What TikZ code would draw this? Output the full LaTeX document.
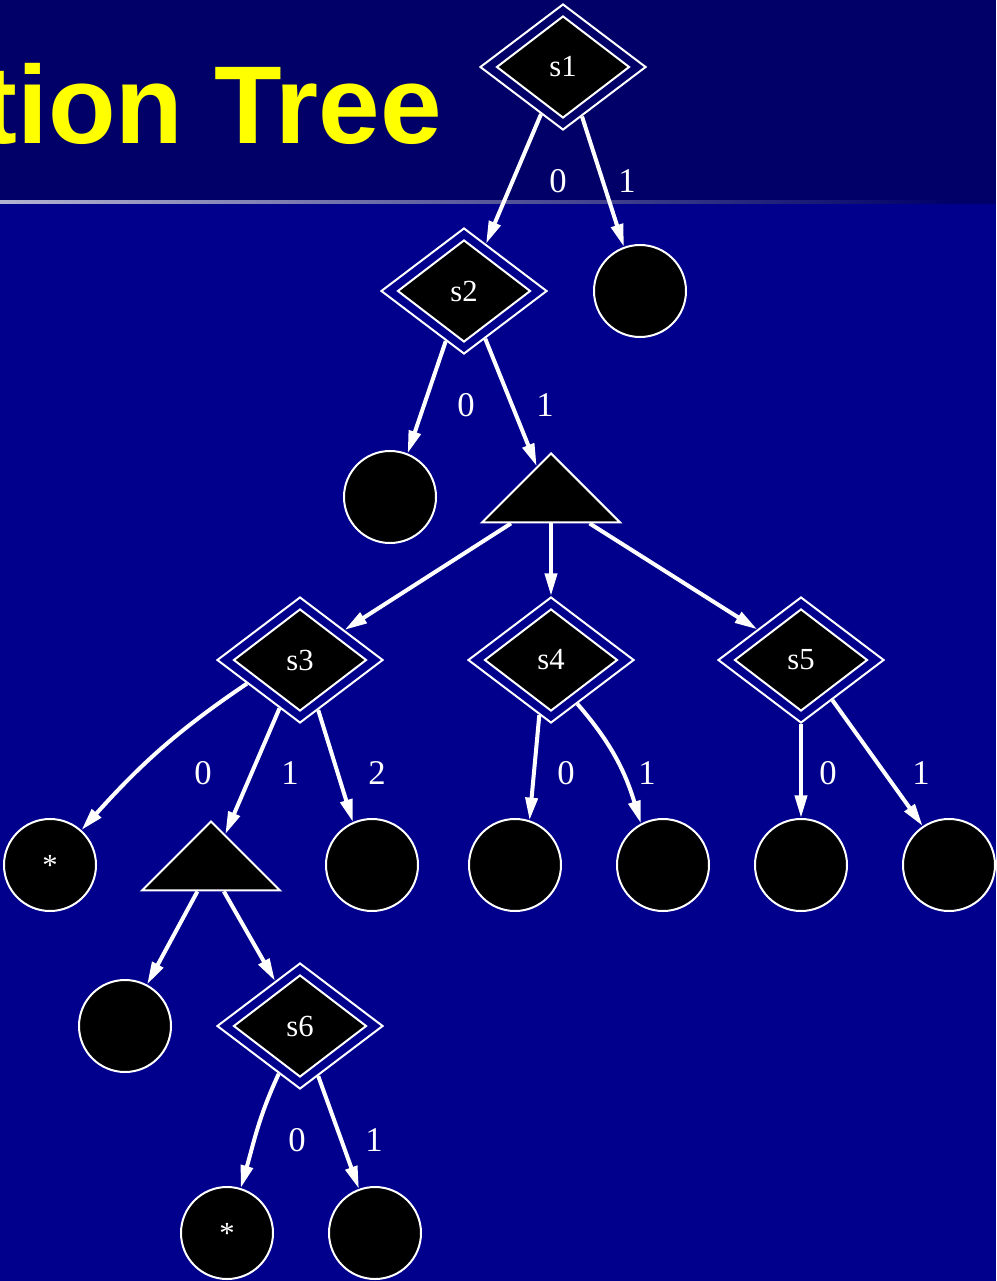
\documentclass[tikz,border=0pt]{standalone}
\usepackage{fontspec}
\setmainfont{Liberation Serif}
\newfontfamily\titlefont{Liberation Sans}
\usetikzlibrary{shapes.geometric,arrows.meta,calc}
\definecolor{hdr}{RGB}{0,0,104}
\definecolor{bodybg}{RGB}{0,0,140}
\definecolor{ttl}{RGB}{255,255,0}
\begin{document}
\begin{tikzpicture}[x=0.75pt,y=0.75pt,
  dcore/.style={diamond, draw=white, fill=black, line width=1.5pt, minimum width=99.75pt, minimum height=76.5pt, inner sep=0pt, text=white, font=\fontsize{23}{23}\selectfont},
  dframe/.style={diamond, draw=white, line width=1.5pt, minimum width=124.5pt, minimum height=94.5pt, inner sep=0pt},
  leaf/.style={circle, draw=white, fill=black, line width=1.5pt, minimum size=69pt, inner sep=0pt, text=white, font=\fontsize{23}{23}\selectfont},
  tri/.style={isosceles triangle, isosceles triangle apex angle=90, shape border rotate=90, draw=white, fill=black, line width=1.5pt, minimum width=51.75pt, minimum height=51.75pt, inner sep=0pt, anchor=apex},
  conn/.style={draw=white, line width=3pt, -{Triangle[length=17pt,width=9pt]}},
  lbl/.style={text=white, font=\fontsize{26}{26}\selectfont, inner sep=0pt},
]
\useasboundingbox (0,0) rectangle (996,-1281);
\clip (0,0) rectangle (996,-1281);
\fill[bodybg] (0,0) rectangle (996,-1281);
\fill[hdr] (0,0) rectangle (996,-204);
\shade[left color=white!70!hdr, right color=hdr] (0,-200) rectangle (950,-203);
\node[anchor=base east, text=ttl, font=\titlefont\bfseries\fontsize{83}{83}\selectfont, inner sep=0pt] (title) at (442,-143) {tion Tree};

% decision nodes
\node[dframe] (s1o) at (563,-67) {};
\node[dcore] (s1) at (563,-67) {s1};
\node[dframe] (s2o) at (464,-291) {};
\node[dcore] (s2) at (464,-291) {s2};
\node[dframe] (s3o) at (300,-660) {};
\node[dcore] (s3) at (300,-660) {s3};
\node[dframe] (s4o) at (551,-660) {};
\node[dcore] (s4) at (551,-660) {s4};
\node[dframe] (s5o) at (801,-660) {};
\node[dcore] (s5) at (801,-660) {s5};
\node[dframe] (s6o) at (300,-1026) {};
\node[dcore] (s6) at (300,-1026) {s6};

% chance nodes
\node[tri] (t1) at (551,-452) {};
\node[tri] (t2) at (211,-820) {};

% leaves
\node[leaf] (c1) at (640,-291) {};
\node[leaf] (c2) at (390,-497) {};
\node[leaf] (c3) at (50,-865) {*};
\node[leaf] (c4) at (372,-865) {};
\node[leaf] (c5) at (515,-865) {};
\node[leaf] (c6) at (663,-865) {};
\node[leaf] (c7) at (801,-865) {};
\node[leaf] (c8) at (949,-865) {};
\node[leaf] (c9) at (125,-1026) {};
\node[leaf] (c10) at (227,-1233) {*};
\node[leaf] (c11) at (375,-1233) {};

% edges
\draw[conn] (s1o.-115.6) -- (s2o.65.7);
\draw[conn] (s1o.-69.6) -- (c1.110.6);
\draw[conn] (s2o.-110.4) -- (c2.68.2);
\draw[conn] (s2o.-66.7) -- ($(t1.apex)!0.2!(t1.left corner)$);
\draw[conn] ($(t1.lower side)!0.56!(t1.left corner)$) -- (s3o.34.5);
\draw[conn] (t1.lower side) -- (s4o.north);
\draw[conn] ($(t1.lower side)!0.54!(t1.right corner)$) -- (s5o.145.5);
\draw[conn] (s3o.204) to[out=214,in=48] (c3.48);
\draw[conn] (s3o.-113) -- ($(t2.apex)!0.2!(t2.right corner)$);
\draw[conn] (s3o.-70.2) -- (c4.114.3);
\draw[conn] (s4o.-102) -- (c5.72.8);
\draw[conn] (s4o.-59) to[out=-49,in=107] (c6.118);
\draw[conn] (s5o.south) -- (c7.north);
\draw[conn] (s5o.-52.2) -- (c8.124);
\draw[conn] ($(t2.lower side)!0.19!(t2.left corner)$) -- (c9.62.4);
\draw[conn] ($(t2.lower side)!0.18!(t2.right corner)$) -- (s6o.119.4);
\draw[conn] (s6o.-114.2) to[out=-115,in=74] (c10.73.9);
\draw[conn] (s6o.-70) -- (c11.110.7);

% edge labels
\node[lbl] (l1a) at (558,-181) {0};
\node[lbl] (l1b) at (627,-181) {1};
\node[lbl] (l2a) at (466,-405) {0};
\node[lbl] (l2b) at (545,-405) {1};
\node[lbl] (l3a) at (203,-773) {0};
\node[lbl] (l3b) at (290,-773) {1};
\node[lbl] (l3c) at (377,-773) {2};
\node[lbl] (l4a) at (566,-773) {0};
\node[lbl] (l4b) at (647,-773) {1};
\node[lbl] (l5a) at (828,-773) {0};
\node[lbl] (l5b) at (921,-773) {1};
\node[lbl] (l6a) at (297,-1140) {0};
\node[lbl] (l6b) at (374,-1140) {1};
\end{tikzpicture}
\end{document}
